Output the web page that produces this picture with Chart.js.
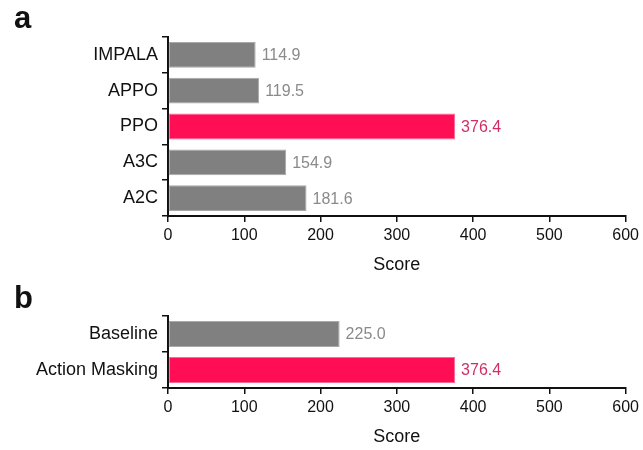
<!DOCTYPE html>
<html>
<head>
<meta charset="utf-8">
<script src="https://cdn.jsdelivr.net/npm/chart.js@4.4.1/dist/chart.umd.min.js"></script>
<style>
  html, body { margin: 0; padding: 0; background: #ffffff; }
  #wrap { position: relative; width: 643px; height: 450px; overflow: hidden; }
  canvas { position: absolute; left: 0; }
  #cA { top: 0; }
  #cB { top: 280px; }
  .tag { position: absolute; font-family: "Liberation Sans", Arial, sans-serif; font-weight: bold; font-size: 31px; line-height: 31px; color: #111; }
</style>
</head>
<body>
<div id="wrap">
  <canvas id="cA" width="643" height="280"></canvas>
  <canvas id="cB" width="643" height="170"></canvas>
  <div class="tag" style="left:14px; top:2px;">a</div>
  <div class="tag" style="left:14px; top:282px;">b</div>
</div>
<script>
// Panel a: algorithm comparison
const algoNames = ['IMPALA', 'APPO', 'PPO', 'A3C', 'A2C'];
const algoScores = [114.9, 119.5, 376.4, 154.9, 181.6];
const algoHighlight = 'PPO';

// Panel b: effect of action masking
const maskNames = ['Baseline', 'Action Masking'];
const maskScores = [225.0, 376.4];
const maskHighlight = 'Action Masking';

const scoreTicks = [0, 100, 200, 300, 400, 500, 600];

const FONT = '"Liberation Sans", Arial, Helvetica, sans-serif';
const GREY = '#808080', GREY_EDGE = '#a9a9a9', GREY_TEXT = '#8a8a8a';
const PINK = '#ff0d55', PINK_EDGE = '#ff6a92', PINK_TEXT = '#d12e67';

// Writes each bar's value just past its end
const valueLabels = {
  id: 'valueLabels',
  afterDatasetsDraw(chart) {
    const ctx = chart.ctx;
    const ds = chart.data.datasets[0];
    const meta = chart.getDatasetMeta(0);
    ctx.save();
    ctx.font = '16px ' + FONT;
    ctx.textAlign = 'left';
    ctx.textBaseline = 'middle';
    meta.data.forEach((bar, i) => {
      ctx.fillStyle = ds.labelColors[i];
      ctx.fillText(Number(ds.data[i]).toFixed(1), bar.x + 6, bar.y + 1);
    });
    ctx.restore();
  }
};

function makePanel(canvasId, names, scores, highlight, topPad, bottomPad) {
  const fills = names.map(n => n === highlight ? PINK : GREY);
  const edges = names.map(n => n === highlight ? PINK_EDGE : GREY_EDGE);
  const texts = names.map(n => n === highlight ? PINK_TEXT : GREY_TEXT);
  return new Chart(document.getElementById(canvasId), {
    type: 'bar',
    data: {
      labels: names,
      datasets: [{
        data: scores,
        backgroundColor: fills,
        borderColor: edges,
        borderWidth: 1,
        borderSkipped: false,
        labelColors: texts,
        categoryPercentage: 1.0,
        barPercentage: 0.72
      }]
    },
    options: {
      indexAxis: 'y',
      responsive: false,
      animation: false,
      events: [],
      layout: { padding: { top: topPad, right: 15, bottom: bottomPad, left: 0 } },
      plugins: { legend: { display: false }, tooltip: { enabled: false } },
      scales: {
        x: {
          min: 0, max: 600,
          afterBuildTicks: s => { s.ticks = scoreTicks.map(v => ({ value: v })); },
          afterFit: s => { s.height = 60; },
          border: { display: true, color: '#111', width: 2 },
          grid: { drawOnChartArea: false, drawTicks: true, tickLength: 6, color: '#111', lineWidth: 1.5 },
          ticks: { color: '#111', font: { family: FONT, size: 16 }, padding: 4, maxRotation: 0 },
          title: { display: true, text: 'Score', color: '#111', font: { family: FONT, size: 18 }, padding: { top: 0, bottom: 0 } }
        },
        y: {
          afterFit: s => { s.width = 168; },
          border: { display: true, color: '#111', width: 2 },
          grid: { drawOnChartArea: false, drawTicks: true, tickLength: 6, color: '#111', lineWidth: 1.5, offset: true },
          ticks: { color: '#111', font: { family: FONT, size: 18 }, padding: 4 }
        }
      }
    },
    plugins: [valueLabels]
  });
}

makePanel('cA', algoNames, algoScores, algoHighlight, 37, 4);
makePanel('cB', maskNames, maskScores, maskHighlight, 36, 2);
</script>
</body>
</html>
